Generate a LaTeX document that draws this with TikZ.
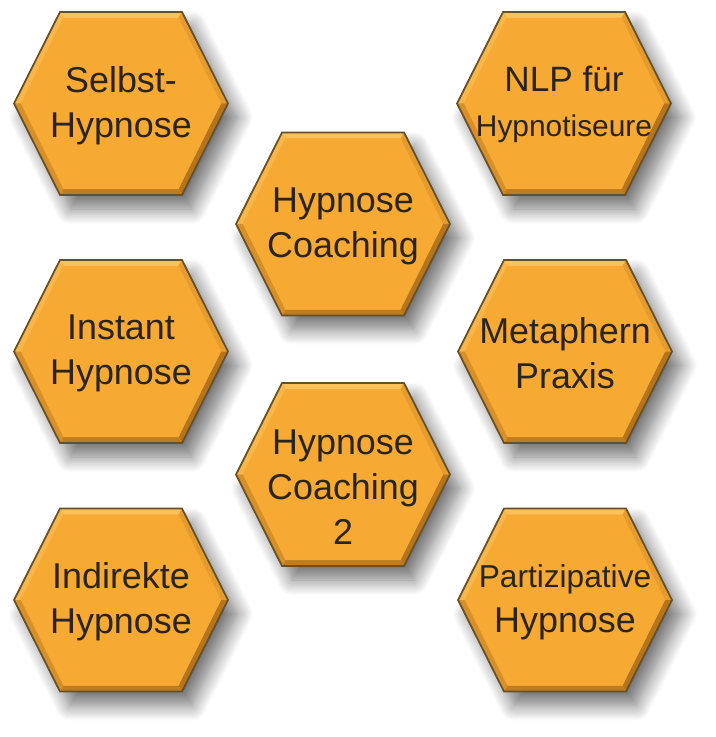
\documentclass[tikz,border=0pt]{standalone}
\usepackage{fontspec}
\setmainfont{Liberation Sans}
\usetikzlibrary{shadows.blur}

\definecolor{hexorange}{HTML}{F6A933}
\definecolor{hexmid}{HTML}{E69C2D}
\definecolor{hexlight}{HTML}{FBC25C}
\definecolor{hexdark}{HTML}{B5741D}
\definecolor{hexedge}{HTML}{65502A}
\definecolor{hexink}{HTML}{2A241E}

% one bevelled hexagon: [text offset], name, x, y, text
\newcommand{\hexcell}[5][0]{%
 \begin{scope}[shift={(#3,#4)}]
 \path[hexshadow] (-107,0) -- (-61,-91.5) -- (61,-91.5) -- (107,0) -- (61,91.5) -- (-61,91.5) -- cycle;
 \fill[hexlight] (-61,-91.5) -- (61,-91.5) -- (57.5,-85.5) -- (-57.5,-85.5) -- cycle;
 \fill[hexlight!55!hexorange] (-107,0) -- (-61,-91.5) -- (-57.5,-85.5) -- (-100,0) -- cycle;
 \fill[hexmid] (61,-91.5) -- (107,0) -- (100,0) -- (57.5,-85.5) -- cycle;
 \fill[hexdark] (107,0) -- (61,91.5) -- (57.5,85.5) -- (100,0) -- cycle;
 \fill[hexdark!80!hexmid] (61,91.5) -- (-61,91.5) -- (-57.5,85.5) -- (57.5,85.5) -- cycle;
 \fill[hexmid!70!hexdark] (-61,91.5) -- (-107,0) -- (-100,0) -- (-57.5,85.5) -- cycle;
 \shade[top color=hexorange, middle color=hexmid, bottom color=hexorange]
   (-100,0) -- (-57.5,-85.5) -- (57.5,-85.5) -- (100,0) -- (57.5,85.5) -- (-57.5,85.5) -- cycle;
 \draw[hexedge, line width=0.5pt] (-107,0) -- (-61,-91.5) -- (61,-91.5) -- (107,0) -- (61,91.5) -- (-61,91.5) -- cycle;
 \node[hextext] (#2) at (0,#1) {#5};
 \end{scope}}

\begin{document}
\begin{tikzpicture}[x=0.01cm, y=-0.01cm,
 hexshadow/.style={fill=hexorange, blur shadow={shadow xshift=0.1cm, shadow yshift=-0.14cm,
   shadow blur radius=0.15cm, shadow blur steps=14, shadow opacity=55}},
 hextext/.style={text=hexink, align=center, font=\fontsize{10.2}{12.8}\selectfont}]
 \useasboundingbox (0,0) rectangle (715,737);

 \hexcell[2]{selbst}{121}{103.5}{Selbst-\\Hypnose}
 \hexcell[1]{nlp}{564}{103.5}{\fontsize{10}{11.4}\selectfont NLP für\\\fontsize{8.5}{11.4}\selectfont Hypnotiseure}
 \hexcell[2]{coach}{343}{224}{Hypnose\\Coaching}
 \hexcell[2]{instant}{121}{351.5}{Instant\\Hypnose}
 \hexcell[2]{metaphern}{565}{351.5}{Metaphern\\Praxis}
 \hexcell[13]{coachtwo}{343}{474.5}{\fontsize{10.2}{13.1}\selectfont Hypnose\\Coaching\\2}
 \hexcell[2]{indirekt}{121}{600}{Indirekte\\Hypnose}
 \hexcell[2]{partizip}{565}{600}{\fontsize{9}{12.8}\selectfont Partizipative\\\fontsize{10.2}{12.8}\selectfont Hypnose}
\end{tikzpicture}
\end{document}
